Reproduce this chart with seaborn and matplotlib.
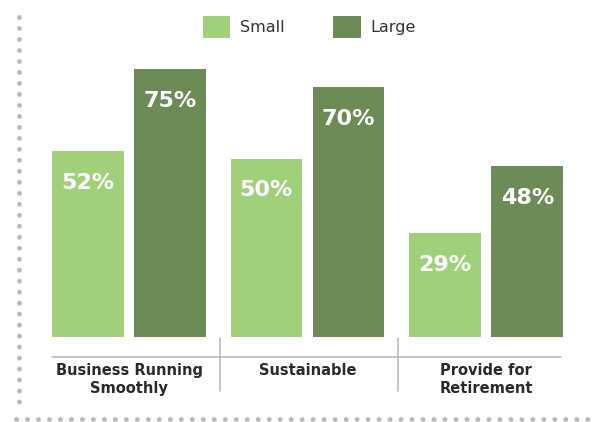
import matplotlib
matplotlib.use("Agg")
import matplotlib.pyplot as plt
from matplotlib.lines import Line2D
import seaborn as sns
import pandas as pd

categories = ["Business Running\nSmoothly", "Sustainable", "Provide for\nRetirement"]
series_names = ["Small", "Large"]
small_values = [52, 50, 29]
large_values = [75, 70, 48]
colors = ["#A0D07A", "#6C8B56"]

df = pd.DataFrame({
    "category": categories * 2,
    "size": [series_names[0]] * 3 + [series_names[1]] * 3,
    "value": small_values + large_values,
})

sns.set_theme(style="white")
plt.rcParams['font.family'] = ['DejaVu Sans']

W, H = 595, 422
fig = plt.figure(figsize=(W / 100, H / 100), dpi=100)
fig.patch.set_facecolor("white")

px_per_pct = 3.57
bottom_px = 337
top_px = 40
ax_left = 129 - 0.5 * 178.5
ax_right = 486 + 0.5 * 178.5
ax = fig.add_axes([ax_left / W, (H - bottom_px) / H, (ax_right - ax_left) / W, (bottom_px - top_px) / H])

sns.barplot(data=df, x="category", y="value", hue="size", palette=colors,
            width=0.924, gap=0.133, ax=ax, saturation=1, legend=True, linewidth=0)
ax.set_xlim(-0.5, 2.5)
ax.set_ylim(0, (bottom_px - top_px) / px_per_pct)
for s in ax.spines.values():
    s.set_visible(False)
ax.set_yticks([])
ax.set_xlabel("")
ax.set_ylabel("")
ax.tick_params(axis="x", length=0, pad=19)
for lab in ax.get_xticklabels():
    lab.set_fontsize(10.5)
    lab.set_fontweight("bold")
    lab.set_color("#2a2a2a")
    lab.set_linespacing(1.25)

for cont in ax.containers:
    for p in cont:
        h = p.get_height()
        ax.annotate(f"{h:.0f}%", (p.get_x() + p.get_width() / 2, h),
                    xytext=(0, -23), textcoords="offset points",
                    ha="center", va="center", color="white",
                    fontsize=16, fontweight="bold")

handles, labels = ax.get_legend_handles_labels()
ax.legend(handles, labels, loc="center", bbox_to_anchor=(309 / W, 1 - 27 / H),
          bbox_transform=fig.transFigure, ncol=2, frameon=False,
          fontsize=11.5, handlelength=1.75, handleheight=1.75,
          handletextpad=0.6, columnspacing=3.0, labelcolor="#333333")

def fx(x):
    return x / W

def fy(y):
    return 1 - y / H

gray = "#b5b5b5"
fig.add_artist(Line2D([fx(52), fx(561)], [fy(357), fy(357)], color=gray, lw=1.1))
for xs in (220, 398):
    fig.add_artist(Line2D([fx(xs), fx(xs)], [fy(338), fy(391)], color=gray, lw=1.1))

dot_col = "#b9b9bd"
lw = 3.5
fig.add_artist(Line2D([fx(18.5), fx(18.5)], [fy(17), fy(412)], color=dot_col, lw=lw,
                      linestyle=(0, (0.01, 2.25)), dash_capstyle="round"))
fig.add_artist(Line2D([fx(16), fx(600)], [fy(419), fy(419)], color=dot_col, lw=lw,
                      linestyle=(0, (0.01, 2.25)), dash_capstyle="round"))

fig.savefig("out.png", dpi=100, facecolor="white")
